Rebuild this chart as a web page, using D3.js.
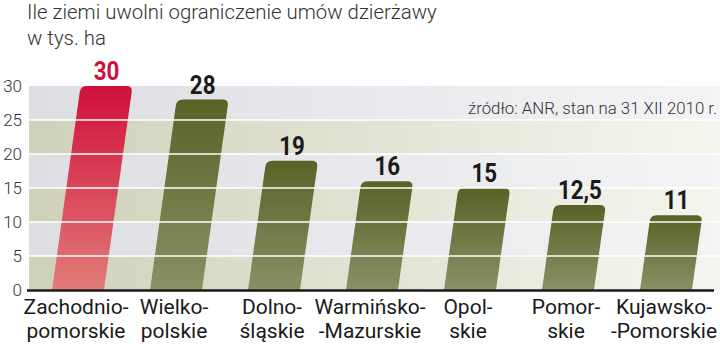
<!DOCTYPE html>
<html>
<head>
<meta charset="utf-8">
<script src="https://cdn.jsdelivr.net/npm/d3@7"></script>
<style>
  html, body { margin: 0; padding: 0; background: #fff; }
  svg { display: block; }
</style>
</head>
<body>
<svg id="chart" width="720" height="344"></svg>
<script>
// Voivodeships (two-line labels) and land freed, thousand ha
const regionLine1 = ["Zachodnio-", "Wielko-", "Dolno-", "Warmińsko-", "Opol-", "Pomor-", "Kujawsko-"];
const regionLine2 = ["pomorskie", "polskie", "śląskie", "-Mazurskie", "skie", "skie", "-Pomorskie"];
const landFreed = [30, 28, 19, 16, 15, 12.5, 11];
const yTicks = [0, 5, 10, 15, 20, 25, 30];
const titleLines = ["Ile ziemi uwolni ograniczenie umów dzierżawy", "w tys. ha"];
const sourceNote = "źródło: ANR, stan na 31 XII 2010 r.";

const data = regionLine1.map((r, i) => ({ key: r + regionLine2[i], l1: r, l2: regionLine2[i], v: landFreed[i] }));

const svg = d3.select("#chart");
const font = "Roboto, 'Noto Sans', sans-serif";

const plotLeft = 29, plotRight = 720;
const x = d3.scaleBand()
  .domain(data.map(d => d.key))
  .range([29, 715])
  .paddingInner(0.47)
  .paddingOuter(0.235);
const y = d3.scaleLinear().domain([0, 30]).range([290, 86]);

const defs = svg.append("defs");
function hGrad(id, c0, c1) {
  const g = defs.append("linearGradient").attr("id", id).attr("x1", 0).attr("x2", 1).attr("y1", 0).attr("y2", 0);
  g.append("stop").attr("offset", 0).attr("stop-color", c0);
  g.append("stop").attr("offset", 1).attr("stop-color", c1);
}
function vGrad(id, c0, c1) {
  const g = defs.append("linearGradient").attr("id", id).attr("x1", 0).attr("x2", 0).attr("y1", 0).attr("y2", 1);
  g.append("stop").attr("offset", 0).attr("stop-color", c0);
  g.append("stop").attr("offset", 1).attr("stop-color", c1);
}
hGrad("bandBeige", "#d0d1ba", "#f5f5ef");
hGrad("bandGrey", "#dcdee2", "#f4f4f6");
vGrad("barRed", "#d0103a", "#e27c79");
vGrad("barGreen", "#5a6227", "#879165");

// Alternating background bands
const bands = d3.pairs(yTicks);
svg.append("g").selectAll("rect").data(bands).join("rect")
  .attr("x", plotLeft)
  .attr("width", plotRight - plotLeft)
  .attr("y", d => y(d[1]))
  .attr("height", d => y(d[0]) - y(d[1]))
  .attr("fill", (d, i) => i % 2 === 0 ? "url(#bandBeige)" : "url(#bandGrey)");

// Slanted bars with rounded tops
const slant = 0.14, r = 6;
function barPath(d) {
  const w = x.bandwidth();
  const x0 = x(d.key), yb = y(0), yt = y(d.v);
  const s = (yb - yt) * slant;
  const p = d3.path();
  p.moveTo(x0, yb);
  p.lineTo(x0 + s - r * slant, yt + r);
  p.quadraticCurveTo(x0 + s, yt, x0 + s + r, yt);
  p.lineTo(x0 + s + w - r, yt);
  p.quadraticCurveTo(x0 + s + w, yt, x0 + s + w - r * slant, yt + r);
  p.lineTo(x0 + w, yb);
  p.closePath();
  return p.toString();
}
svg.append("g").selectAll("path").data(data).join("path")
  .attr("d", barPath)
  .attr("fill", (d, i) => i === 0 ? "url(#barRed)" : "url(#barGreen)");

// White grid lines, drawn across the bars
svg.append("g").selectAll("line").data(yTicks.filter(t => t > 0 && t < 30)).join("line")
  .attr("x1", plotLeft).attr("x2", plotRight)
  .attr("y1", d => y(d)).attr("y2", d => y(d))
  .attr("stroke", "#fff").attr("stroke-width", 1.6);

// Y axis tick labels
const yAxis = d3.axisLeft(y).tickValues(yTicks).tickSize(0).tickPadding(0);
const gy = svg.append("g").attr("transform", "translate(22,0)").call(yAxis);
gy.select(".domain").remove();
gy.selectAll("text")
  .attr("font-family", font).attr("font-weight", 300).attr("font-size", 17)
  .attr("fill", "#333");

// Baseline
svg.append("line")
  .attr("x1", 27).attr("x2", 714).attr("y1", y(0) + 0.5).attr("y2", y(0) + 0.5)
  .attr("stroke", "#1a1a1a").attr("stroke-width", 2.6);

// Value labels above the tops of the bars (condensed bold)
svg.append("g").selectAll("text").data(data).join("text")
  .attr("transform", d => `translate(${x(d.key) + x.bandwidth() / 2 + (y(0) - y(d.v)) * slant},${y(d.v) - 6}) scale(0.86,1)`)
  .attr("text-anchor", "middle")
  .attr("font-family", font).attr("font-weight", 700).attr("font-size", 26)
  .attr("fill", (d, i) => i === 0 ? "#d0103a" : "#1a1a1a")
  .text(d => String(d.v).replace(".", ","));

// Category labels
const cat = svg.append("g").selectAll("text").data(data).join("text")
  .attr("text-anchor", "middle")
  .attr("font-family", font).attr("font-size", 21)
  .attr("fill", "#1a1a1a");
cat.append("tspan").attr("x", d => x(d.key) + x.bandwidth() / 2 - 2).attr("y", 314).text(d => d.l1);
cat.append("tspan").attr("x", d => x(d.key) + x.bandwidth() / 2 - 2).attr("y", 338).text(d => d.l2);

// Title, horizontally condensed
const title = svg.append("g");
const tl = title.selectAll("text").data(titleLines).join("text")
  .attr("x", 0).attr("y", (d, i) => 19 + i * 26)
  .attr("font-family", font).attr("font-weight", 300).attr("font-size", 21)
  .attr("fill", "#333").text(d => d);
const sx = 410 / tl.node().getComputedTextLength();
title.attr("transform", `translate(27,0) scale(${sx},1)`);

// Source note
svg.append("text")
  .attr("x", 468).attr("y", 114)
  .attr("textLength", 249).attr("lengthAdjust", "spacingAndGlyphs")
  .attr("font-family", font).attr("font-weight", 300).attr("font-size", 16)
  .attr("fill", "#333").text(sourceNote);
</script>
</body>
</html>
